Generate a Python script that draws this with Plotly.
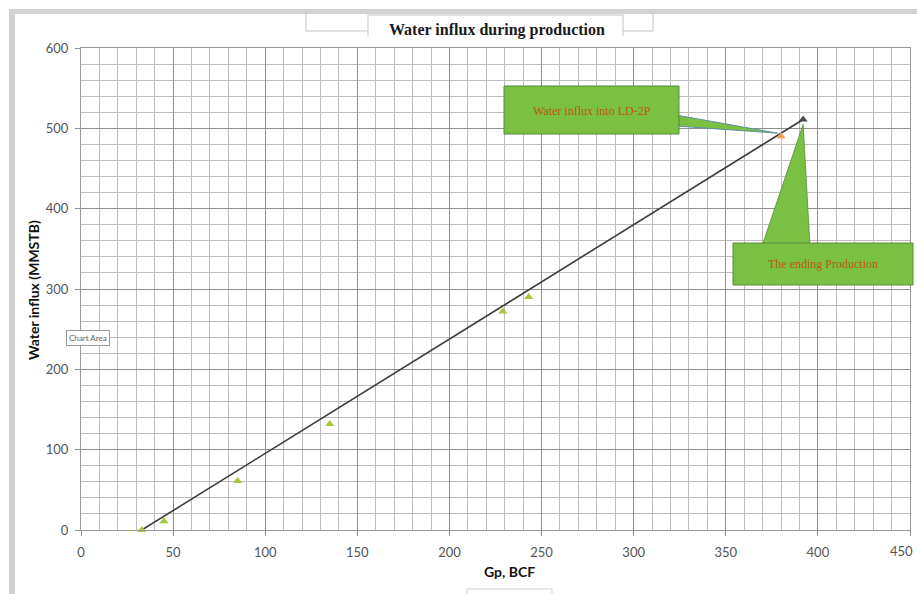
import plotly.graph_objects as go

# Cumulative gas production (BCF) vs. water influx (MMSTB)
gp_history = [33, 45, 85, 135, 229, 243]
we_history = [0, 11, 61, 132, 272, 290]
gp_ld2p = [380]
we_ld2p = [490]
gp_end = [392]
we_end = [511]

# straight-line trend from first production to end of production
trend_gp = [gp_history[0], gp_end[0]]
trend_we = [we_history[0], we_end[0]]

x_ticks = list(range(0, 451, 50))
y_ticks = list(range(0, 601, 100))
# last x label is drawn separately, nudged inward so it stays on the page
x_labels = [str(v) for v in x_ticks[:-1]] + [""]

W, H = 917, 594
L, R, T, B = 81, 910, 48, 530
XMAX, YMAX = 450, 600


def px(xp):
    return (xp - L) / (R - L)


def py(yp):
    return (B - yp) / (B - T)


def dx(v):
    return v / XMAX


def dy(v):
    return v / YMAX


fig = go.Figure()

fig.add_trace(go.Scatter(
    x=trend_gp, y=trend_we, mode="lines",
    line=dict(color="#3c3c3c", width=1.6), hoverinfo="skip", cliponaxis=False))
fig.add_trace(go.Scatter(
    x=gp_history, y=we_history, mode="markers",
    marker=dict(symbol="triangle-up", size=8, color="#a3c93a"), cliponaxis=False))
fig.add_trace(go.Scatter(
    x=gp_ld2p, y=we_ld2p, mode="markers",
    marker=dict(symbol="triangle-up", size=8, color="#f0a050"), cliponaxis=False))
fig.add_trace(go.Scatter(
    x=gp_end, y=we_end, mode="markers",
    marker=dict(symbol="triangle-up", size=8, color="#4a4a4a"), cliponaxis=False))

shapes = []
frame = "#d2d2d2"
# outer frame bands
shapes.append(dict(type="rect", xref="paper", yref="paper",
                   x0=px(9), x1=px(917), y0=py(14), y1=py(9),
                   fillcolor=frame, line=dict(width=0), layer="below"))
shapes.append(dict(type="rect", xref="paper", yref="paper",
                   x0=px(9), x1=px(15), y0=py(594), y1=py(9),
                   fillcolor=frame, line=dict(width=0), layer="below"))


def path(points):
    return "M " + " L ".join(f"{px(a):.5f},{py(b):.5f}" for a, b in points)


# title box outlines
box_line = dict(color="#c4c4c4", width=1)
shapes.append(dict(type="path", xref="paper", yref="paper",
                   path=path([(306, 13), (306, 31), (368, 31)]), line=box_line))
shapes.append(dict(type="path", xref="paper", yref="paper",
                   path=path([(623, 31), (653, 31), (653, 13)]), line=box_line))
shapes.append(dict(type="path", xref="paper", yref="paper",
                   path=path([(368, 36), (368, 15), (623, 15), (623, 36)]), line=box_line))

green = "#7ac143"
edge = "#5a8a3c"

# callout 1: tail toward LD-2P point, then box
tip1x, tip1y = dx(gp_ld2p[0] - 2), dy(we_ld2p[0] + 4)
shapes.append(dict(type="path", xref="paper", yref="paper",
                   path=f"M {px(676):.5f},{py(115):.5f} L {tip1x:.5f},{tip1y:.5f} "
                        f"L {px(676):.5f},{py(126):.5f} Z",
                   fillcolor=green, line=dict(color="#5f8fa0", width=1)))
shapes.append(dict(type="rect", xref="paper", yref="paper",
                   x0=px(504), x1=px(679), y0=py(134), y1=py(86),
                   fillcolor=green, line=dict(color=edge, width=1)))

# callout 2: tail toward end-of-production point, then box
tip2x, tip2y = dx(gp_end[0]), dy(we_end[0] - 6)
shapes.append(dict(type="path", xref="paper", yref="paper",
                   path=f"M {px(762):.5f},{py(246):.5f} L {tip2x:.5f},{tip2y:.5f} "
                        f"L {px(810):.5f},{py(246):.5f} Z",
                   fillcolor=green, line=dict(color=edge, width=0.8)))
shapes.append(dict(type="rect", xref="paper", yref="paper",
                   x0=px(733), x1=px(913), y0=py(285), y1=py(243),
                   fillcolor=green, line=dict(color=edge, width=1)))

# small box under x-axis title
shapes.append(dict(type="path", xref="paper", yref="paper",
                   path=path([(467, 594), (467, 589), (552, 589), (552, 594)]),
                   line=dict(color="#d0d0d0", width=1)))


def note(text, xp, yp, **kw):
    return dict(text=text, xref="paper", yref="paper", x=px(xp), y=py(yp),
                xanchor="center", yanchor="middle", showarrow=False, **kw)


tick_font = dict(family="Lato", size=13, color="#555555")

annotations = [
    note("<b>Water influx during production</b>", 497, 30,
         font=dict(family="Liberation Serif", size=16, color="#1a1a1a"),
         bgcolor="white"),
    note("Water influx into LD-2P", 592, 111,
         font=dict(family="Liberation Serif", size=12, color="#c0561b")),
    note("The ending Production", 823, 264,
         font=dict(family="Liberation Serif", size=12, color="#c0561b")),
    note("<b>Water influx (MMSTB)</b>", 33, 290, textangle=-90,
         font=dict(family="Lato", size=14, color="#111111")),
    note("<b>Gp, BCF</b>", 509, 571,
         font=dict(family="Lato", size=14, color="#111111")),
    note("Chart Area", 88, 338,
         font=dict(family="Lato", size=8, color="#666666"),
         bgcolor="white", bordercolor="#9a9a9a", borderwidth=1, borderpad=2),
    dict(text=str(x_ticks[-1]), xref="paper", yref="paper",
         x=dx(x_ticks[-1]), y=py(551), xanchor="right", yanchor="middle",
         xshift=5, showarrow=False, font=tick_font),
]

axis_common = dict(
    showline=True, linecolor="#9a9a9a", linewidth=1, mirror=True,
    showgrid=True, gridcolor="#8e8e8e", gridwidth=1,
    ticks="outside", ticklen=5, tickcolor="#8e8e8e",
    tickfont=tick_font,
    ticklabeloverflow="allow", automargin=False,
    zeroline=False, fixedrange=True,
)

fig.update_layout(
    width=W, height=H,
    margin=dict(l=L, r=W - R, t=T, b=H - B),
    paper_bgcolor="white", plot_bgcolor="white",
    showlegend=False,
    shapes=shapes, annotations=annotations,
    xaxis=dict(range=[0, XMAX], tickvals=x_ticks, ticktext=x_labels, ticklabelstandoff=5,
               minor=dict(dtick=10, showgrid=True, gridcolor="#bdbdbd", gridwidth=1),
               **axis_common),
    yaxis=dict(range=[0, YMAX], tickvals=y_ticks, ticklabelstandoff=4,
               minor=dict(dtick=20, showgrid=True, gridcolor="#bdbdbd", gridwidth=1),
               **axis_common),
)

fig.write_html("out.html")
